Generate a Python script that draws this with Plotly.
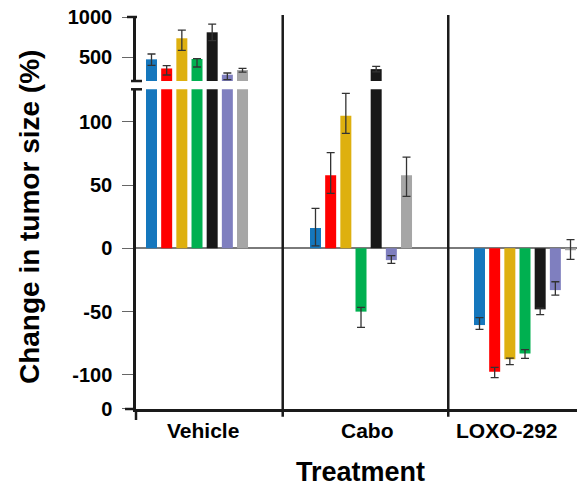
import plotly.graph_objects as go

groups = ["Vehicle", "Cabo", "LOXO-292"]
series_names = ["S1", "S2", "S3", "S4", "S5", "S6", "S7"]
colors = ["#1577bd", "#ff0000", "#deb00f", "#00b050", "#181818", "#7f7fbf", "#a6a6a6"]

blue = [477, 16, -60.6]
blue_up = [66, 15.6, 5.8]
blue_dn = [74, 14, 3.4]
red = [364, 57.7, -97.5]
red_up = [34, 17.8, 3.5]
red_dn = [81, 14.3, 4.7]
yellow = [737, 104.7, -87.7]
yellow_up = [102, 17.7, 1.0]
yellow_dn = [149, 13.9, 4.2]
green = [481, -50, -83]
green_up = [4, 3.4, 3.0]
green_dn = [99, 12.4, 3.9]
black = [811, 356, -48.2]
black_up = [102, 35, 1.0]
black_dn = [102, 35, 4.2]
purple = [287, -9.3, -33]
purple_up = [21, 3.5, 6.6]
purple_dn = [62, 2.6, 3.9]
gray = [345, 57.7, -1]
gray_up = [21, 14.3, 7.8]
gray_dn = [25, 16.7, 7.7]

values = [blue, red, yellow, green, black, purple, gray]
errs_up = [blue_up, red_up, yellow_up, green_up, black_up, purple_up, gray_up]
errs_dn = [blue_dn, red_dn, yellow_dn, green_dn, black_dn, purple_dn, gray_dn]

low_ticks = [-100, -50, 0, 50, 100]
high_ticks = [500, 1000]

LOW_RANGE = [-126.9, 125.6]
HIGH_RANGE = [209, 1000]
LOW_DOM = [0, 0.8156]
HIGH_DOM = [0.8367, 1]

FONT = "Liberation Sans, Arial, sans-serif"

fig = go.Figure()
xpos = list(range(len(groups)))
for yax in ["y", "y2"]:
    for name, col, v, eu, ed in zip(series_names, colors, values, errs_up, errs_dn):
        fig.add_trace(go.Bar(
            x=xpos, y=v, name=name, marker=dict(color=col, line=dict(width=0)),
            error_y=dict(type="data", symmetric=False, array=eu, arrayminus=ed,
                         color="#333333", thickness=1.3, width=4),
            yaxis=yax, showlegend=False, offsetgroup=name,
        ))

axis_col = "#1a1a1a"
fig.update_layout(
    width=577, height=487,
    margin=dict(l=136, r=0, t=17, b=78, autoexpand=False),
    paper_bgcolor="white", plot_bgcolor="white",
    barmode="group", bargap=0.3525, bargroupgap=0.275,
    xaxis=dict(range=[-0.372, 2.317], showticklabels=False, ticks="",
               showline=True, linecolor=axis_col, linewidth=2.5,
               showgrid=False, zeroline=False, anchor="y"),
    yaxis=dict(domain=LOW_DOM, range=LOW_RANGE,
               tickvals=[LOW_RANGE[0] + 0.01] + low_ticks,
               ticktext=["0"] + [str(t) for t in low_ticks],
               ticks="outside", ticklen=11, tickwidth=1, tickcolor="#666666",
               ticklabelstandoff=6,
               tickfont=dict(family=FONT, size=20, color="black", weight="bold"),
               showline=True, linecolor=axis_col, linewidth=2.5,
               showgrid=False, zeroline=True, zerolinecolor="#7a7a7a", zerolinewidth=1.5,
               anchor="x"),
    yaxis2=dict(domain=HIGH_DOM, range=HIGH_RANGE,
                tickvals=high_ticks, ticktext=[str(t) for t in high_ticks],
                ticks="outside", ticklen=11, tickwidth=1, tickcolor="#666666",
                ticklabelstandoff=6,
                tickfont=dict(family=FONT, size=20, color="black", weight="bold"),
                showline=True, linecolor=axis_col, linewidth=2.5,
                showgrid=False, zeroline=False, anchor="x"),
)

shapes = []
# break caps
for yv in [HIGH_DOM[0], LOW_DOM[1]]:
    shapes.append(dict(type="line", xref="paper", yref="paper", xsizemode="pixel", xanchor=0,
                       x0=-5, x1=6, y0=yv, y1=yv, line=dict(color=axis_col, width=2.5)))
# top tick at 1000
shapes.append(dict(type="line", xref="paper", yref="paper", xsizemode="pixel", xanchor=0,
                   x0=-9, x1=1, y0=1, y1=1, line=dict(color=axis_col, width=2.5)))
# bottom tick
shapes.append(dict(type="line", xref="paper", yref="paper", xsizemode="pixel", xanchor=0,
                   x0=-11, x1=0, y0=0, y1=0, line=dict(color=axis_col, width=2.5)))
# left axis extension below
shapes.append(dict(type="line", xref="paper", yref="paper", ysizemode="pixel", yanchor=0,
                   x0=0, x1=0, y0=-11, y1=0, line=dict(color=axis_col, width=2.5)))
# separators
for sx in [0.5226, 1.532]:
    shapes.append(dict(type="line", xref="x", yref="paper", x0=sx, x1=sx,
                       y0=-0.02, y1=1.005, line=dict(color=axis_col, width=2.5)))
fig.update_layout(shapes=shapes)

label_x = [0.037, 1.037, 1.893]
ann = []
for g, lx in zip(groups, label_x):
    ann.append(dict(text=g, x=lx, y=-0.0561, xref="x", yref="paper", showarrow=False,
                    xanchor="center", yanchor="middle",
                    font=dict(family=FONT, size=21, color="black", weight="bold")))
ann.append(dict(text="Treatment", x=0.508, y=-0.1607, xref="paper", yref="paper", showarrow=False,
                xanchor="center", yanchor="middle",
                font=dict(family=FONT, size=27, color="black", weight="bold")))
ann.append(dict(text="Change in tumor size (%)", x=-0.240, y=0.49, xref="paper", yref="paper",
                showarrow=False, textangle=-90, xanchor="center", yanchor="middle",
                font=dict(family=FONT, size=28, color="black", weight="bold")))
fig.update_layout(annotations=ann)

fig.write_html("out.html")
